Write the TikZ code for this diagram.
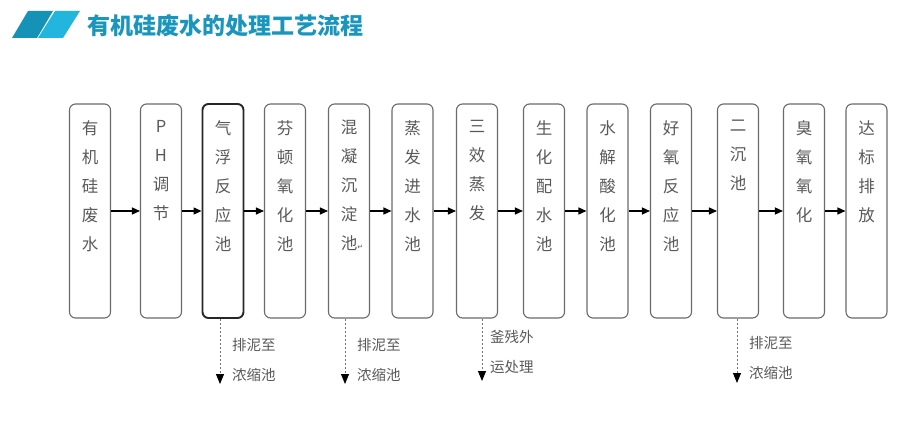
\documentclass[tikz,border=0pt]{standalone}
\usepackage{fontspec}
\setmainfont{Noto Sans CJK SC}
\newfontfamily\symfont{DejaVu Sans}
\usetikzlibrary{arrows.meta,positioning}
\definecolor{titleblue}{HTML}{1A96BE}
\definecolor{stripedark}{HTML}{1592B5}
\definecolor{stripelight}{HTML}{22B6DE}
\definecolor{boxgray}{HTML}{6A6A6A}
\definecolor{txtgray}{HTML}{5A5A5A}
\tikzset{
	box/.style = {draw=boxgray, line width=1.1pt, rounded corners=6pt,
		minimum width=41pt, minimum height=214pt, inner sep=0pt},
	hotbox/.style = {box, draw=black!85, line width=1.9pt},
	boxtext/.style = {text=txtgray, align=center, anchor=north, inner sep=0pt,
		font=\fontsize{16.5}{29}\selectfont},
	flow/.style = {line width=1.3pt, -{Triangle[length=8pt,width=7pt]}},
	drop/.style = {draw=black!55, line width=0.9pt, dash pattern=on 2pt off 2pt},
	droptip/.style = {solid, line width=0.9pt, -{Triangle[length=10pt,width=8pt]}},
	note/.style = {text=txtgray, align=left, anchor=west, inner sep=0pt,
		font=\fontsize{14.5}{30}\selectfont}
}
\begin{document}
\begin{tikzpicture}[x=1pt, y=-1pt]
	\fill[white] (0,0) rectangle (918,425);
	\useasboundingbox (0,0) rectangle (918,425);
	% title bar
	\fill[stripedark] (28,11) -- (53,11) -- (37,38) -- (12,38) -- cycle;
	\fill[stripelight] (55,11) -- (80,11) -- (63,38) -- (38,38) -- cycle;
	\node[anchor=west, inner sep=0pt, text=titleblue, font=\fontsize{23}{23}\selectfont\bfseries]
		(title) at (87,26) {有机硅废水的处理工艺流程};
	% process boxes
	\foreach \n/\x/\s/\t in {
		1/90/box/{有\\机\\硅\\废\\水},
		2/161/box/{P\\H\\调\\节},
		3/223/hotbox/{气\\浮\\反\\应\\池},
		4/285/box/{芬\\顿\\氧\\化\\池},
		5/349/box/{混\\凝\\沉\\淀\\池\rlap{\symfont\fontsize{7}{7}\selectfont ↵}},
		6/412.5/box/{蒸\\发\\进\\水\\池},
		7/477/box/{三\\效\\蒸\\发},
		8/544/box/{生\\化\\配\\水\\池},
		9/607.5/box/{水\\解\\酸\\化\\池},
		10/671/box/{好\\氧\\反\\应\\池},
		11/738/box/{二\\沉\\池},
		12/804/box/{臭\\氧\\氧\\化},
		13/866.5/box/{达\\标\\排\\放}} {
		\node[\s] (b\n) at (\x,211) {};
		\node[boxtext] (t\n) at (\x,120) {\t};
	}
	\foreach \a/\b in {1/2,2/3,3/4,4/5,5/6,6/7,7/8,8/9,9/10,10/11,11/12,12/13}
		\draw[flow] (b\a.east) -- (b\b.west);
	% sludge and residue outlets
	\coordinate (d3) at (220,384);
	\coordinate (d5) at (345,384);
	\coordinate (d7) at (482,381);
	\coordinate (d11) at (737,383);
	\foreach \n in {3,5,7,11} {
		\draw[drop] (b\n.south -| d\n) -- ([yshift=9pt]d\n);
		\draw[droptip] ([yshift=10pt]d\n) -- (d\n);
	}
	\node[note] (n3) at (232,360) {排泥至\\浓缩池};
	\node[note] (n5) at (357,360) {排泥至\\浓缩池};
	\node[note] (n7) at (490,352) {釜残外\\运处理};
	\node[note] (n11) at (749,358) {排泥至\\浓缩池};
\end{tikzpicture}
\end{document}
